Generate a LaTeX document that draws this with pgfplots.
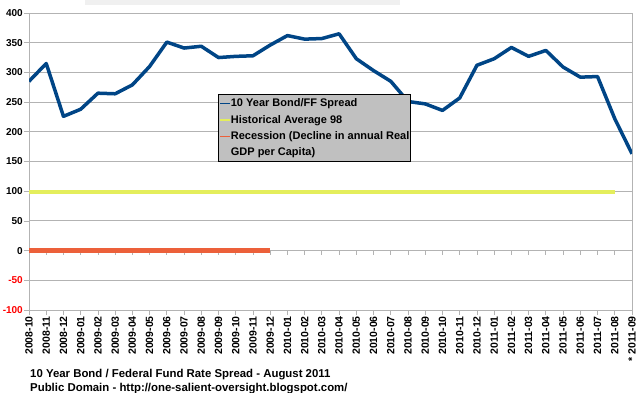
\documentclass[border=0pt]{standalone}
\usepackage{fontspec}
\setmainfont{Liberation Sans}
\usepackage{pgfplots}
\pgfplotsset{compat=1.18}
\definecolor{bondblue}{RGB}{0,69,134}
\definecolor{avgyellow}{RGB}{228,238,92}
\definecolor{recred}{RGB}{236,96,58}
\definecolor{gridgray}{RGB}{179,179,179}
\definecolor{leggray}{RGB}{192,192,192}
\begin{document}
\begin{tikzpicture}[x=1pt,y=1pt]
\path[use as bounding box] (0,0) rectangle (638,392);
\fill[gray!12] (85,387) rectangle (400,392);
\begin{axis}[
  at={(29pt,82pt)}, anchor=south west,
  scale only axis, width=603pt, height=297pt,
  xmin=0, xmax=35, ymin=-100, ymax=400,
  xtick={0,...,35},
  xticklabels={2008-10,2008-11,2008-12,2009-01,2009-02,2009-03,2009-04,2009-05,2009-06,2009-07,2009-08,2009-09,2009-10,2009-11,2009-12,2010-01,2010-02,2010-03,2010-04,2010-05,2010-06,2010-07,2010-08,2010-09,2010-10,2010-11,2010-12,2011-01,2011-02,2011-03,2011-04,2011-05,2011-06,2011-07,2011-08,* 2011-09},
  ytick={-100,-50,0,50,100,150,200,250,300,350,400},
  yticklabels={\textcolor{red}{-100},\textcolor{red}{-50},0,50,100,150,200,250,300,350,400},
  x tick label style={rotate=90, anchor=east, inner sep=1pt, font=\bfseries\fontsize{10.5}{12}\selectfont},
  y tick label style={font=\bfseries\fontsize{10}{12}\selectfont, inner sep=1pt},
  tick pos=left, tick align=outside, major tick length=5pt,
  tick style={gridgray, line width=0.8pt},
  axis line style={gridgray, line width=1pt},
  ymajorgrids, grid style={gridgray, line width=1pt},
  legend style={at={(0.3134,0.727)}, anchor=north west, fill=leggray, draw=black, line width=0.8pt,
    font=\bfseries\fontsize{11}{15.5}\selectfont, inner xsep=1pt, inner ysep=3pt,
    row sep=4pt, cells={anchor=base west}, nodes={inner xsep=0pt, inner ysep=1.5pt}},
]
\pgfplotsinvokeforeach{1,...,34}{\draw[gridgray, line width=0.8pt] (axis cs:#1,0) -- ++(0pt,-4pt);}
\addplot[bondblue, line width=3.5pt, line join=round,
  legend image code/.code={\draw[draw=bondblue, line width=1.5pt] (0pt,3.6pt) -- (10pt,3.6pt);}] coordinates {
(0,285) (1,315) (2,226) (3,238) (4,265) (5,264) (6,279) (7,310) (8,351) (9,341)
(10,344) (11,325) (12,327) (13,328) (14,346) (15,362) (16,356) (17,357) (18,365) (19,323)
(20,303) (21,285) (22,251) (23,247) (24,236) (25,257) (26,312) (27,323) (28,342) (29,327)
(30,337) (31,309) (32,292) (33,293) (34,222) (35,163)};
\addlegendentry{10 Year Bond/FF Spread}
\addplot[avgyellow, line width=4pt,
  legend image code/.code={\draw[draw=avgyellow, line width=1.5pt] (0pt,3.6pt) -- (10pt,3.6pt);}] coordinates {(0,98) (34,98)};
\addlegendentry{Historical Average 98}
\addplot[recred, line width=5pt,
  legend image code/.code={\draw[draw=recred, line width=1.5pt] (0pt,19.1pt) -- (10pt,19.1pt);}] coordinates {(0,0) (14,0)};
\addlegendentry[align=left]{Recession (Decline in annual Real\\GDP per Capita)}
\end{axis}
\node[anchor=base west, inner sep=0pt, font=\bfseries\fontsize{11.4}{12}\selectfont] at (30,15) {10 Year Bond / Federal Fund Rate Spread - August 2011};
\node[anchor=base west, inner sep=0pt, font=\bfseries\fontsize{11.4}{12}\selectfont] at (30,1) {Public Domain - http://one-salient-oversight.blogspot.com/};
\end{tikzpicture}
\end{document}
